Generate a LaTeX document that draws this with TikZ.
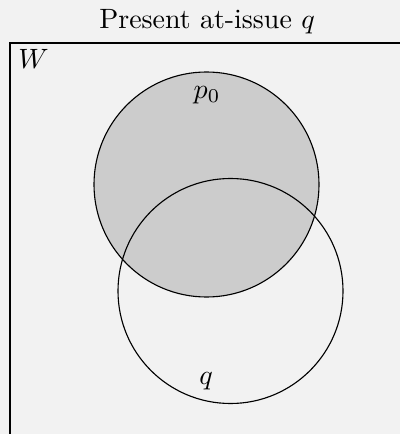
\documentclass[tikz,border=0pt]{standalone}
\usepackage{amsmath,amssymb}
\usepackage{xcolor}

\begin{document}
\begin{tikzpicture}[xscale=0.01258,yscale=-0.01258]
	\newcommand{\venrad}{112.5}
	\fill[black!5] (0,0) rectangle (400,434);
	\clip (0,0) rectangle (400,434);
	\useasboundingbox (0,0) rectangle (400,434);
	% the world
	\draw [semithick] (10,43) rectangle (430,470);
	\node [anchor=north west, inner sep=1pt] (wlabel) at (15,46) {$W$};
	\node (title) at (207,22) {Present at-issue $q$};
	% the two propositions
	\fill[black!20] (206.5,184.5) circle (\venrad);
	\draw (206.5,184.5) circle (\venrad);
	\draw (230.5,291) circle (\venrad);
	\node (plabel) at (207,95) {$p_0$};
	\node (qlabel) at (206,381) {$q$};
\end{tikzpicture}
\end{document}
